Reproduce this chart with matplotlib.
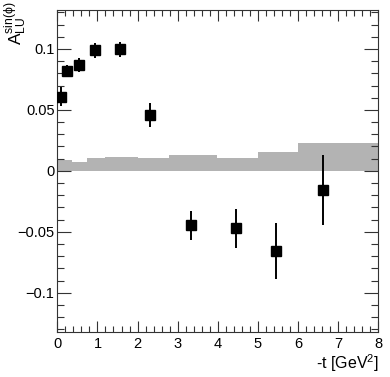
import matplotlib
matplotlib.use("Agg")
import matplotlib.pyplot as plt
from matplotlib.ticker import MultipleLocator

plt.rcParams['font.family'] = ['Liberation Sans', 'DejaVu Sans']
plt.rcParams['mathtext.fontset'] = 'custom'
plt.rcParams['mathtext.rm'] = 'Liberation Sans'
plt.rcParams['mathtext.it'] = 'Liberation Sans:italic'

# data
t_vals = [0.09, 0.24, 0.55, 0.95, 1.55, 2.32, 3.33, 4.45, 5.45, 6.63]
alu_vals = [0.061, 0.082, 0.087, 0.099, 0.0997, 0.046, -0.0448, -0.047, -0.0658, -0.0156]
alu_err = [0.0075, 0.005, 0.006, 0.006, 0.006, 0.0097, 0.012, 0.016, 0.0228, 0.029]

sys_edges = [0, 0.37, 0.75, 1.19, 2.0, 2.79, 3.97, 5.0, 6.0, 8.0]
sys_vals = [0.0088, 0.0074, 0.0109, 0.0117, 0.0109, 0.0128, 0.0107, 0.0156, 0.0232]

fig = plt.figure(figsize=(3.9, 3.77), dpi=100)
ax = fig.add_axes([0.147, 0.120, 0.823, 0.8535])

ax.stairs(sys_vals, sys_edges, baseline=0, fill=True, color='#b3b3b3', lw=0, zorder=1)
ax.errorbar(t_vals, alu_vals, yerr=alu_err, fmt='s', color='black', ms=7,
            elinewidth=1.4, capsize=0, zorder=3)

ax.set_xlim(0, 8)
ax.set_ylim(-0.132, 0.132)
ax.xaxis.set_major_locator(MultipleLocator(1))
ax.xaxis.set_minor_locator(MultipleLocator(0.2))
ax.yaxis.set_major_locator(MultipleLocator(0.05))
ax.yaxis.set_minor_locator(MultipleLocator(0.01))
ax.tick_params(which='both', direction='in', top=True, right=True, colors='#333333',
               labelcolor='black', labelsize=10.5, width=0.8)
ax.tick_params(axis='y', which='major', length=10, pad=2)
ax.tick_params(axis='y', which='minor', length=5)
ax.tick_params(axis='x', which='major', length=8, pad=4)
ax.tick_params(axis='x', which='minor', length=4)
for s in ax.spines.values():
    s.set_color('#333333')
    s.set_linewidth(0.8)

ax.set_yticks([-0.1, -0.05, 0, 0.05, 0.1])
ax.set_yticklabels(['\u22120.1', '\u22120.05', '0', '0.05', '0.1'])

fig.text(0.972, 0.008, r'-t [GeV$^{2}$]', ha='right', va='bottom', fontsize=11.5)
fig.text(0.075, 0.995, r'$\mathrm{A}_{\mathrm{LU}}^{\mathrm{sin(\phi)}}$', rotation=90,
         ha='right', va='top', fontsize=12.5)

fig.savefig('out.png', dpi=100)
